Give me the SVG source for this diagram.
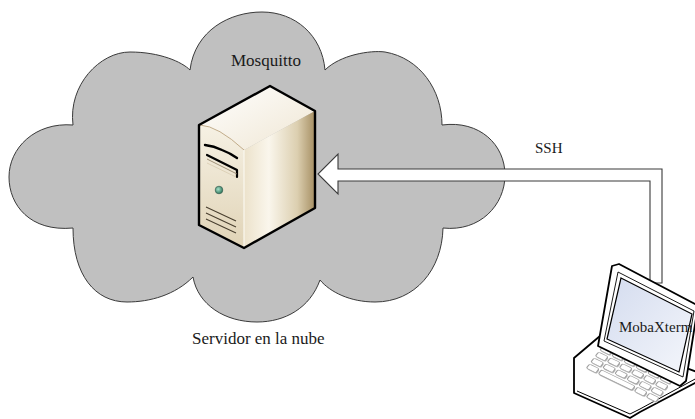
<svg xmlns="http://www.w3.org/2000/svg" width="695" height="419" viewBox="0 0 695 419">
  <style>
    .lbl { font-family: "Liberation Serif", "Times New Roman", serif; fill: #1a1a1a; }
    .key { fill: #ffffff; stroke: #a0a0a0; stroke-width: 0.9; }
    .keysh { fill: #c4c4c4; }
    .edge { fill: none; stroke: #000; stroke-linejoin: round; stroke-linecap: round; }
  </style>
  <defs>
    <linearGradient id="gTop" x1="0" y1="0" x2="1" y2="1">
      <stop offset="0" stop-color="#ffffff"/>
      <stop offset="1" stop-color="#efe6d3"/>
    </linearGradient>
    <linearGradient id="gFront" x1="0" y1="0" x2="0" y2="1">
      <stop offset="0" stop-color="#f6f1e4"/>
      <stop offset="1" stop-color="#e0d3b6"/>
    </linearGradient>
    <linearGradient id="gSide" x1="244" y1="0" x2="315" y2="0" gradientUnits="userSpaceOnUse">
      <stop offset="0" stop-color="#ece2cb"/>
      <stop offset="0.35" stop-color="#faf6ec"/>
      <stop offset="0.75" stop-color="#dccfb0"/>
      <stop offset="1" stop-color="#a68f63"/>
    </linearGradient>
    <linearGradient id="gScreen" x1="0" y1="0" x2="1" y2="1">
      <stop offset="0" stop-color="#d4dcef"/>
      <stop offset="1" stop-color="#f4f6fb"/>
    </linearGradient>
    <radialGradient id="gLed" cx="0.4" cy="0.4" r="0.6">
      <stop offset="0" stop-color="#a8e0c8"/>
      <stop offset="1" stop-color="#2f7a5e"/>
    </radialGradient>
    <!-- one keycap with its shadow, in keyboard-local units -->
    <g id="kc">
      <rect class="keysh" x="1" y="1.2" width="8" height="7" rx="1.5"/>
      <rect class="key" x="0" y="0" width="8" height="7" rx="1.5"/>
    </g>
  </defs>

  <rect width="695" height="419" fill="#ffffff"/>

  <!-- cloud -->
  <g id="cloud">
    <path d="M73,125 C68,85 100,52 130,52 C160,52 182,62 190,70
             C195,30 230,12 262,12 C295,12 322,35 325,70
             C340,55 370,50 385,52 C420,58 442,90 442,125
             C480,120 505,145 505,175 C505,205 480,232 443,228
             C442,270 415,302 375,302 C350,302 330,292 320,280
             C310,308 285,322 257,322 C225,322 198,305 193,277
             C175,295 150,302 127,302 C95,302 73,275 73,228
             C30,232 9,205 9,177 C9,148 35,122 73,125 Z"
          fill="#c0c0c0" stroke="#3a3a3a" stroke-width="1"/>
    <text class="lbl" x="231" y="66" font-size="17">Mosquitto</text>
    <text class="lbl" x="192" y="344" font-size="17">Servidor en la nube</text>
  </g>

  <!-- connectors -->
  <g id="connectors">
    <polygon points="662,283 662,169 338,169 338,154 318,174 338,194 338,181 650,181 650,283"
             fill="#ffffff" stroke="#3a3a3a" stroke-width="1.1" stroke-linejoin="miter"/>
    <text class="lbl" x="535" y="153" font-size="15">SSH</text>
  </g>

  <!-- server tower -->
  <g id="server">
    <polygon points="199,125 270,86 315,111 244,150" fill="url(#gTop)"/>
    <path d="M199,125 Q218,126 244,150 L244,248 L199,225 Z" fill="url(#gFront)"/>
    <polygon points="244,150 315,111 315,208 244,248" fill="url(#gSide)"/>
    <path d="M200,125 Q218,126 244,150" fill="none" stroke="#b49a74" stroke-width="0.8"/>
    <line x1="244" y1="150" x2="244" y2="247" stroke="#fbf8f0" stroke-width="1.2"/>
    <!-- drive bays -->
    <path d="M205,145 Q214,146 222,150 Q230,153 237,158" class="edge" stroke-width="2.4"/>
    <path d="M207,155 L237,170 L237,177" class="edge" stroke-width="2.2"/>
    <path d="M207,159 L237,174" fill="none" stroke="#8a7a60" stroke-width="0.8"/>
    <path d="M207,163 L236,177" fill="none" stroke="#d8ccb0" stroke-width="0.8"/>
    <!-- power led -->
    <circle cx="219" cy="190" r="3.8" fill="url(#gLed)" stroke="#3b5d50" stroke-width="0.7"/>
    <!-- vents -->
    <path d="M206,207 L236,221 M206,213 L236,227 M206,219 L236,233" fill="none" stroke="#4a4030" stroke-width="1.1"/>
    <polygon points="199,125 270,86 315,111 315,208 244,248 199,225" class="edge" stroke-width="2.4"/>
  </g>

  <!-- laptop -->
  <g id="laptop">
    <!-- base -->
    <path d="M600,336 L574,358 L574,393 L630,418 L640,412 L697,382 L697,372 Z" fill="#ffffff" stroke="#000" stroke-width="1.8" stroke-linejoin="round"/>
    <path d="M577,391 L630,414 L640,409 L697,378" fill="none" stroke="#000" stroke-width="1"/>
    <!-- keyboard -->
    <g transform="matrix(1.2,0.58,-0.45,0.6,603,346)">
      <use href="#kc" x="0" y="0"/><use href="#kc" x="10" y="0"/><use href="#kc" x="20" y="0"/>
      <use href="#kc" x="30" y="0"/><use href="#kc" x="40" y="0"/><use href="#kc" x="50" y="0"/>
      <use href="#kc" x="0" y="10"/><use href="#kc" x="10" y="10"/><use href="#kc" x="20" y="10"/>
      <use href="#kc" x="30" y="10"/><use href="#kc" x="40" y="10"/><use href="#kc" x="50" y="10"/>
      <use href="#kc" x="0" y="20"/><use href="#kc" x="10" y="20"/><use href="#kc" x="20" y="20"/>
      <use href="#kc" x="30" y="20"/><use href="#kc" x="40" y="20"/><use href="#kc" x="50" y="20"/>
      <use href="#kc" x="0" y="30"/>
      <rect class="keysh" x="11" y="31.2" width="28" height="7" rx="1.5"/>
      <rect class="key" x="10" y="30" width="28" height="7" rx="1.5"/>
      <use href="#kc" x="40" y="30"/><use href="#kc" x="50" y="30"/>
    </g>
    <!-- lid -->
    <path d="M612,266 L619,264 L697,305 L697,312 L686,381 L680,386 L598,346 Z" fill="#ffffff" stroke="#000" stroke-width="1.8" stroke-linejoin="round"/>
    <polygon points="618,272 694,311 683,377 604,341" fill="none" stroke="#000" stroke-width="0.9"/>
    <polygon points="621,278 692,314 679,372 607,339" fill="url(#gScreen)" stroke="#000" stroke-width="1.2"/>
    <text class="lbl" x="619" y="332" font-size="15">MobaXterm</text>
  </g>
</svg>
